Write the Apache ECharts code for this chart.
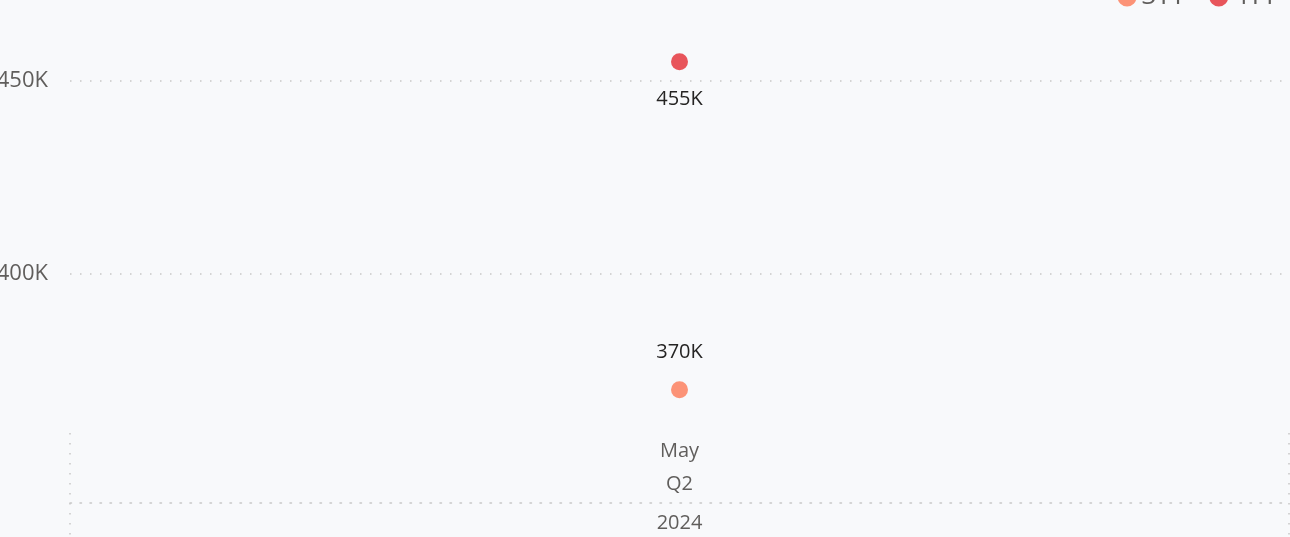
<!DOCTYPE html>
<html>
<head>
<meta charset="utf-8">
<script src="https://cdn.jsdelivr.net/npm/echarts@6/dist/echarts.min.js"></script>
<style>
html,body{margin:0;padding:0;background:#f8f9fb;}
#main{width:1290px;height:537px;}
</style>
</head>
<body>
<div id="main"></div>
<script>
var months=["May"];
var quarters=["Q2"];
var years=["2024"];
var seriesNames=["3TY","4TY"];
var values3TY=[370000];
var values4TY=[455000];
var seriesColors=["#fc9377","#e8555b"];
var labelPos=["top","bottom"];

var chart=echarts.init(document.getElementById('main'));
var font="'Segoe UI','Open Sans','Noto Sans',sans-serif";
var dotted={color:"#c8c8c8",width:1.5,type:[1.5,8.5]};

function fmtK(v){
	return Math.round(v/1000)+"K";
}

var seriesData=[values3TY,values4TY];
var series=[];
for(var i=0;i<seriesNames.length;i++){
	series.push({
		name:seriesNames[i],
		type:"scatter",
		xAxisIndex:0,
		yAxisIndex:0,
		data:seriesData[i],
		symbolSize:17,
		itemStyle:{color:seriesColors[i],opacity:1},
		label:{
			show:true,
			position:labelPos[i],
			distance:19,
			fontSize:20,
			fontFamily:font,
			color:"#252423",
			formatter:function(p){return fmtK(p.value);}
		}
	});
}

var option={
	backgroundColor:"#f8f9fb",
	animation:false,
	legend:{
		data:seriesNames,
		right:13,
		top:-16,
		padding:0,
		icon:"circle",
		itemWidth:19,
		itemHeight:19,
		itemGap:24,
		textStyle:{fontSize:26,fontFamily:font,color:"#605e5c"}
	},
	grid:[
		{left:70,right:1,top:0,bottom:70,outerBoundsMode:"none",containLabel:false},
		{left:70,right:1,top:433,bottom:0,outerBoundsMode:"none",containLabel:false}
	],
	xAxis:[
		{
			gridIndex:0,
			type:"category",
			data:months,
			show:false
		},
		{
			gridIndex:1,
			type:"category",
			data:months,
			position:"top",
			axisLine:{show:false},
			axisTick:{show:false},
			axisLabel:{
				inside:true,
				margin:2,
				fontSize:20,
				lineHeight:33,
				fontFamily:font,
				color:"#605e5c",
				formatter:function(v,idx){return v+"\n"+quarters[idx];}
			},
			splitLine:{show:true,lineStyle:dotted}
		},
		{
			gridIndex:1,
			type:"category",
			data:years,
			position:"bottom",
			offset:-34,
			axisLine:{show:true,lineStyle:dotted},
			axisTick:{show:false},
			axisLabel:{margin:10,fontSize:20,fontFamily:font,color:"#605e5c"}
		}
	],
	yAxis:[
		{
			gridIndex:0,
			type:"value",
			min:350000,
			max:471000,
			interval:50000,
			axisLine:{show:false},
			axisTick:{show:false},
			axisLabel:{
				margin:22,
				fontSize:22,
				fontFamily:font,
				color:"#605e5c",
				showMinLabel:false,
				showMaxLabel:false,
				formatter:fmtK
			},
			splitLine:{show:true,showMinLine:false,showMaxLine:false,lineStyle:dotted}
		},
		{
			gridIndex:1,
			type:"value",
			show:false
		}
	],
	series:series
};
chart.setOption(option);
</script>
</body>
</html>
